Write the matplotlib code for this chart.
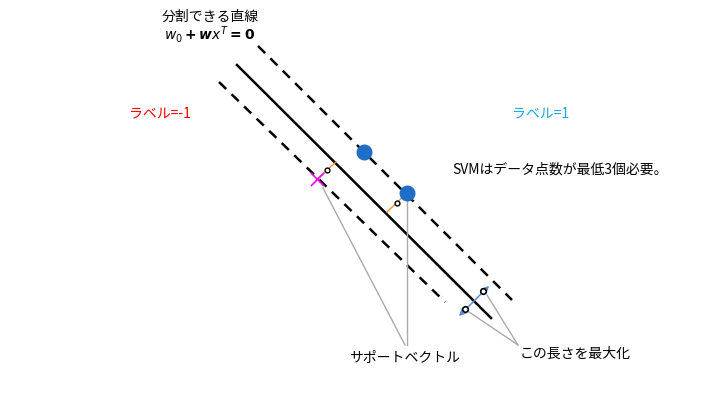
import matplotlib
matplotlib.use("Agg")
import matplotlib.pyplot as plt

plt.rcParams['font.family'] = ['Noto Sans CJK JP', 'DejaVu Sans']

# geometry in picture pixel coordinates
solid_x = [237, 491]
solid_y = [65, 318]
upper_x = [258, 512]
upper_y = [46, 300]
lower_x = [219, 445]
lower_y = [82, 302]
blue_x = [364, 407]
blue_y = [152, 193]
cross_x = [317]
cross_y = [179]

fig = plt.figure(figsize=(7.2, 4.05), dpi=100)
ax = fig.add_axes([0, 0, 1, 1])
ax.set_xlim(0, 720)
ax.set_ylim(405, 0)
ax.axis('off')

ax.plot(solid_x, solid_y, color='black', lw=1.8)
ax.plot(upper_x, upper_y, color='black', lw=1.8, ls=(0, (4, 3)))
ax.plot(lower_x, lower_y, color='black', lw=1.8, ls=(0, (4, 3)))

# orange distance segments
ax.plot([317, 336], [179, 162], color='#f0903a', lw=1)
ax.plot([407, 387], [193, 212], color='#f0903a', lw=1)
ax.plot([327, 397], [170, 203], 'o', ms=3.5, mfc='white', mec='black', mew=1)

# gray pointers
ax.plot([405, 323], [345, 188], color='#aaaaaa', lw=1)
ax.plot([407, 407], [345, 198], color='#aaaaaa', lw=1)
ax.plot([518, 469], [345, 312], color='#aaaaaa', lw=1)
ax.plot([518, 487], [345, 295], color='#aaaaaa', lw=1)

ax.scatter(blue_x, blue_y, s=110, color='#1f6fc8', zorder=5)
ax.scatter(cross_x, cross_y, s=90, marker='x', color='magenta', lw=1.2, zorder=5)

# margin arrow
ax.annotate('', xy=(491, 284), xytext=(457, 318),
            arrowprops=dict(arrowstyle='<->', color='#4a86d8', lw=1))
ax.plot([465, 483], [309, 291], 'o', ms=4, mfc='white', mec='black', mew=1.2, zorder=6)

ax.text(210, 17, '分割できる直線', ha='center', va='center', fontsize=10)
ax.text(210, 34, r'$\boldsymbol{w_0 + wx^T = 0}$', ha='center', va='center', fontsize=10)
ax.text(160, 113, 'ラベル=-1', color='red', ha='center', va='center', fontsize=10)
ax.text(541, 113, 'ラベル=1', color='#1aa7e0', ha='center', va='center', fontsize=10)
ax.text(560, 170, 'SVMはデータ点数が最低3個必要。', ha='center', va='center', fontsize=10)
ax.text(405, 358, 'サポートベクトル', ha='center', va='center', fontsize=10)
ax.text(575, 354, 'この長さを最大化', ha='center', va='center', fontsize=10)

fig.savefig('out.png', dpi=100)
